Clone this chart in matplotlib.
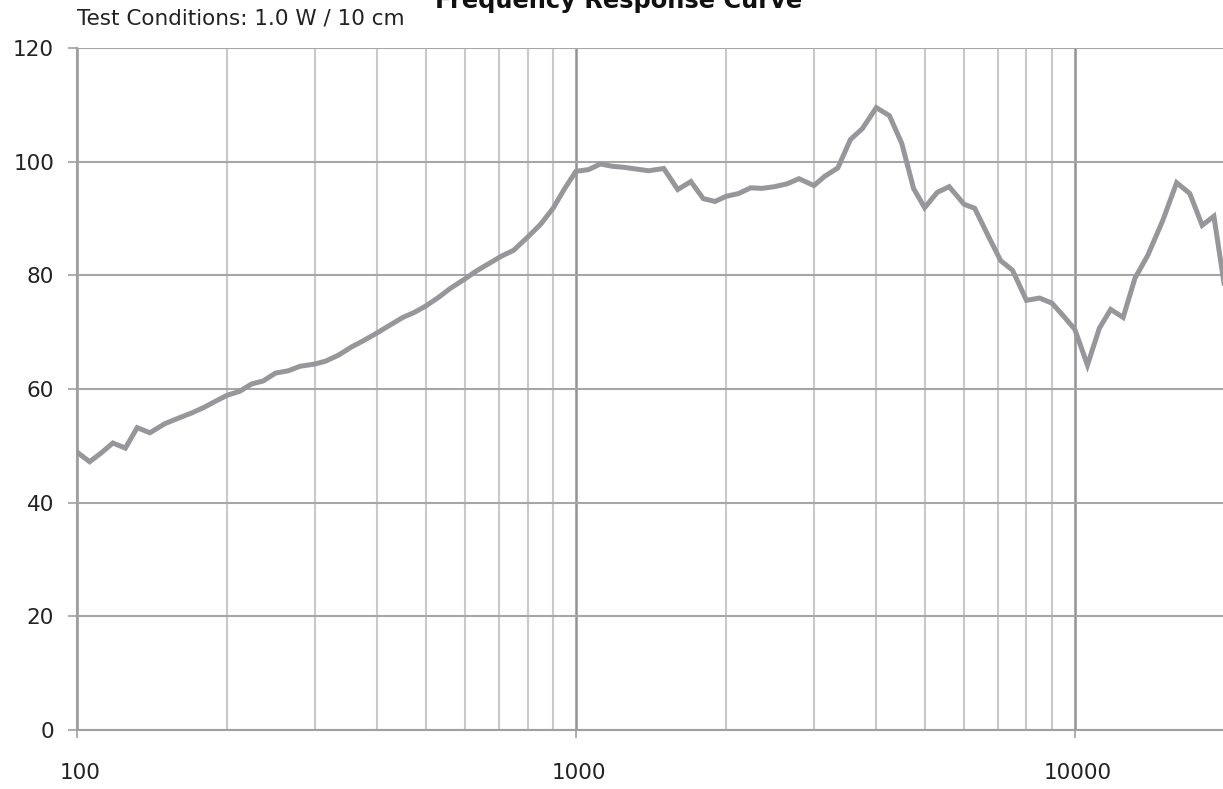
import matplotlib
matplotlib.use('Agg')
import matplotlib.pyplot as plt
import matplotlib.transforms as mtransforms
from matplotlib.ticker import FixedLocator, NullFormatter

# частоты (ряд R40, Гц)
freqs = [100, 106, 112, 118, 125, 132, 140, 150, 160, 170,
         180, 190, 200, 212, 224, 236, 250, 265, 280, 300,
         315, 335, 355, 375, 400, 425, 450, 475, 500, 530,
         560, 600, 630, 670, 710, 750, 800, 850, 900, 950,
         1000, 1060, 1120, 1180, 1250, 1320, 1400, 1500, 1600, 1700,
         1800, 1900, 2000, 2120, 2240, 2360, 2500, 2650, 2800, 3000,
         3150, 3350, 3550, 3750, 4000, 4250, 4500, 4750, 5000, 5300,
         5600, 6000, 6300, 6700, 7100, 7500, 8000, 8500, 9000, 9500,
         10000, 10600, 11200, 11800, 12500, 13200, 14000, 15000, 16000, 17000,
         18000, 19000, 20000]

# уровень, дБ
spl = [48.9, 47.2, 48.8, 50.5, 49.6, 53.2, 52.3, 53.9, 54.9, 55.8,
       56.8, 57.9, 58.9, 59.6, 60.9, 61.4, 62.8, 63.2, 64.0, 64.4,
       64.9, 66.0, 67.4, 68.5, 69.9, 71.3, 72.6, 73.5, 74.6, 76.1,
       77.7, 79.4, 80.7, 82.1, 83.4, 84.4, 86.7, 89.0, 91.8, 95.3,
       98.3, 98.6, 99.6, 99.2, 99.0, 98.7, 98.4, 98.8, 95.1, 96.5,
       93.5, 93.0, 93.9, 94.4, 95.4, 95.3, 95.6, 96.1, 97.0, 95.8,
       97.4, 98.9, 103.9, 105.8, 109.5, 108.1, 103.2, 95.3, 91.9, 94.6,
       95.6, 92.5, 91.8, 87.0, 82.6, 80.9, 75.6, 76.0, 75.1, 72.8,
       70.5, 64.2, 70.7, 74.0, 72.6, 79.5, 83.5, 89.6, 96.3, 94.4,
       88.8, 90.4, 77.5]

major_x = [100, 1000, 10000]
minor_x = [200, 300, 400, 500, 600, 700, 800, 900,
           2000, 3000, 4000, 5000, 6000, 7000, 8000, 9000]
y_ticks = [0, 20, 40, 60, 80, 100, 120]

W, H = 1223, 789
fig = plt.figure(figsize=(W / 100, H / 100), dpi=100)
ax = fig.add_axes([77 / W, (H - 730) / H, (1225 - 77) / W, (730 - 48) / H])

ax.plot(freqs, spl, color='#97979b', lw=3.6, solid_joinstyle='miter', zorder=3)

ax.set_xscale('log')
ax.set_xlim(100, 20000)
ax.set_ylim(0, 120)
ax.xaxis.set_major_locator(FixedLocator(major_x))
ax.xaxis.set_minor_locator(FixedLocator(minor_x))
ax.xaxis.set_minor_formatter(NullFormatter())
ax.set_xticklabels([str(v) for v in major_x])
ax.set_yticks(y_ticks)

ax.grid(True, which='major', axis='x', color='#939393', lw=1.8)
ax.grid(True, which='minor', axis='x', color='#c9c9c9', lw=1.5)
ax.grid(True, which='major', axis='y', color='#a6a6a6', lw=1.5)

for s in ['top', 'right']:
    ax.spines[s].set_visible(False)
for s in ['left', 'bottom']:
    ax.spines[s].set_color('#a0a0a0')
    ax.spines[s].set_linewidth(1.5)

ax.tick_params(axis='x', which='major', length=6, width=1.2, color='#a0a0a0',
               pad=18, labelsize=15.5, labelcolor='#222222')
ax.tick_params(axis='x', which='minor', length=0)
ax.tick_params(axis='y', length=6.5, width=1.2, color='#a0a0a0',
               pad=10, labelsize=15.5, labelcolor='#222222')

# подписи оси X чуть правее сетки, как в оригинале
shift = mtransforms.ScaledTranslation(3 / 100, 0, fig.dpi_scale_trans)
for lbl in ax.get_xticklabels():
    lbl.set_transform(lbl.get_transform() + shift)

fig.text(77 / W, 1 - 25 / H, 'Test Conditions: 1.0 W / 10 cm', fontsize=15.5,
         color='#222222', ha='left', va='baseline')
fig.text(619 / W, 1 - 8 / H, 'Frequency Response Curve', fontsize=17.4,
         fontweight='bold', color='#111111', ha='center', va='baseline')

fig.savefig('out.png', dpi=100)
